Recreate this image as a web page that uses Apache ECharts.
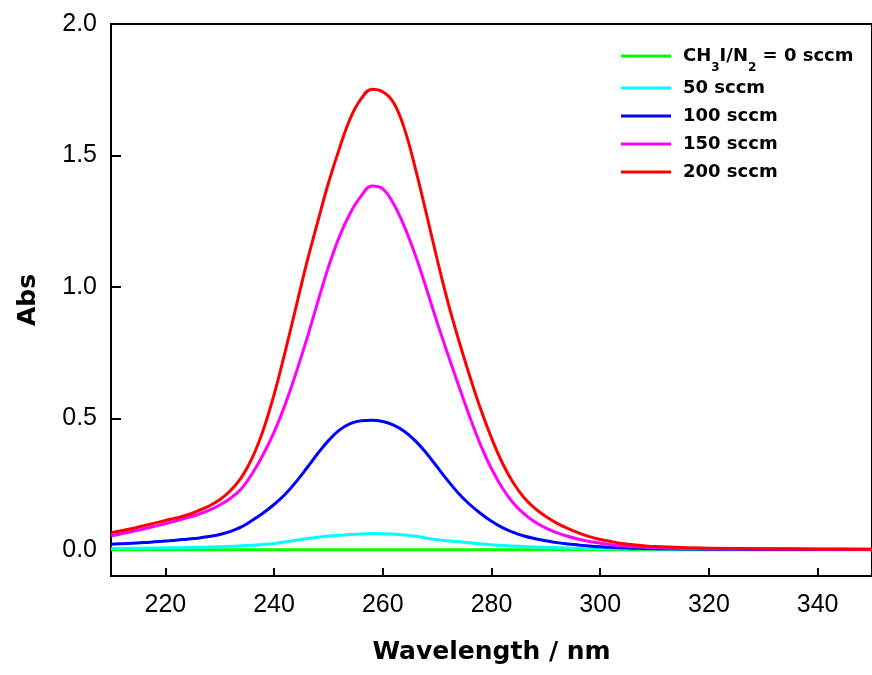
<!DOCTYPE html>
<html>
<head>
<meta charset="utf-8">
<script src="https://cdn.jsdelivr.net/npm/echarts@6/dist/echarts.min.js"></script>
<style>html,body{margin:0;padding:0;background:#fff}#c{width:872px;height:675px}</style>
</head>
<body>
<div id="c"></div>
<script>
// Wavelength grid (nm) for the three large curves
const wavelength = [210,212,214,216,218,220,222,224,226,228,230,232,234,236,238,240,242,244,246,248,250,252,254,256,258,260,262,264,266,268,270,272,274,276,278,280,282,284,286,288,290,292,294,296,298,300,302,304,306,308,310,315,320,330,340,350];
const abs200 = [0.065,0.072,0.081,0.091,0.101,0.111,0.121,0.132,0.148,0.166,0.19,0.225,0.275,0.35,0.455,0.59,0.75,0.92,1.09,1.245,1.395,1.525,1.64,1.715,1.752,1.742,1.70,1.60,1.45,1.28,1.105,0.94,0.795,0.66,0.535,0.425,0.33,0.255,0.198,0.157,0.126,0.101,0.081,0.064,0.050,0.039,0.031,0.024,0.019,0.015,0.012,0.008,0.006,0.004,0.003,0.002];
const abs150 = [0.053,0.061,0.070,0.079,0.089,0.099,0.110,0.121,0.134,0.150,0.170,0.196,0.232,0.29,0.362,0.447,0.55,0.67,0.80,0.94,1.075,1.19,1.28,1.345,1.384,1.373,1.315,1.228,1.12,0.995,0.865,0.742,0.622,0.505,0.398,0.308,0.235,0.178,0.136,0.105,0.082,0.065,0.051,0.040,0.031,0.025,0.019,0.015,0.012,0.009,0.008,0.005,0.004,0.003,0.002,0.002];
const abs100 = [0.021,0.023,0.025,0.027,0.030,0.033,0.036,0.040,0.044,0.050,0.058,0.070,0.087,0.112,0.14,0.172,0.21,0.257,0.31,0.365,0.415,0.455,0.48,0.491,0.493,0.488,0.474,0.45,0.414,0.368,0.315,0.262,0.213,0.172,0.138,0.108,0.084,0.066,0.052,0.042,0.034,0.027,0.022,0.018,0.014,0.011,0.009,0.007,0.006,0.005,0.004,0.003,0.002,0.001,0.001,0.001];
// 50 sccm curve
const wavelength50 = [210,215,220,225,230,235,240,245,250,255,258,260,265,270,275,280,285,290,295,300,310,320,335,350];
const abs50 = [0.005,0.006,0.007,0.009,0.011,0.016,0.024,0.039,0.052,0.059,0.062,0.061,0.054,0.038,0.028,0.019,0.013,0.009,0.006,0.004,0.003,0.002,0.001,0.001];
// 0 sccm curve
const wavelength0 = [210,250,300,350];
const abs0 = [0.0,0.0,0.0,0.0];

const seriesNames = ['CH3I/N2 = 0 sccm','50 sccm','100 sccm','150 sccm','200 sccm'];
const seriesColors = ['#00ff00','#00ffff','#0000ff','#ff00ff','#ff0000'];
const xTicks = [220,240,260,280,300,320,340];
const yTicks = [0,0.5,1.0,1.5,2.0];

function pairs(xs, ys){ return xs.map((x,i)=>[x, ys[i]]); }
const seriesData = [pairs(wavelength0,abs0), pairs(wavelength50,abs50), pairs(wavelength,abs100), pairs(wavelength,abs150), pairs(wavelength,abs200)];

const chart = echarts.init(document.getElementById('c'), null, {renderer:'canvas'});
const tickFont = 'Liberation Sans, Arial, sans-serif';
const boldFont = 'DejaVu Sans, sans-serif';
chart.setOption({
  animation:false,
  backgroundColor:'#fff',
  grid:{left:111, top:24, right:-5, bottom:99, show:true, borderColor:'#000', borderWidth:2, backgroundColor:'transparent'},
  legend:{
    left:621, top:38, padding:0, orient:'vertical', itemWidth:50, itemHeight:3, itemGap:0, icon:'rect',
    data:seriesNames,
    textStyle:{fontFamily:boldFont, fontWeight:'bold', fontSize:18, color:'#000', lineHeight:28, padding:[0,0,0,7],
      rich:{
        m:{fontFamily:boldFont, fontWeight:'bold', fontSize:18, color:'#000', lineHeight:36},
        s:{fontFamily:boldFont, fontWeight:'bold', fontSize:12, color:'#000', lineHeight:24, verticalAlign:'bottom'}
      }
    },
    formatter:function(n){
      if(n===seriesNames[0]) return '{m|CH}{s|3}{m|I/N}{s|2}{m| = 0 sccm}';
      return n;
    }
  },
  xAxis:{
    type:'value', min:210, max:350,
    name:'Wavelength / nm', nameLocation:'middle', nameGap:64,
    nameTextStyle:{fontFamily:boldFont, fontWeight:'bold', fontSize:25, color:'#000'},
    axisLine:{show:true, onZero:false, lineStyle:{color:'#000', width:2}},
    axisTick:{show:true, inside:true, length:8, lineStyle:{color:'#000', width:2}, customValues:xTicks},
    axisLabel:{fontFamily:tickFont, fontSize:25, color:'#000', margin:17, customValues:xTicks},
    splitLine:{show:false}
  },
  yAxis:{
    type:'value', min:-0.1, max:2.0,
    name:'Abs', nameLocation:'middle', nameGap:70, nameRotate:90,
    nameTextStyle:{fontFamily:boldFont, fontWeight:'bold', fontSize:25, color:'#000'},
    axisLine:{show:true, onZero:false, lineStyle:{color:'#000', width:2}},
    axisTick:{show:true, inside:true, length:10, lineStyle:{color:'#000', width:2}, customValues:yTicks},
    axisLabel:{fontFamily:tickFont, fontSize:25, color:'#000', margin:14, customValues:yTicks, formatter:v=>v.toFixed(1)},
    splitLine:{show:false}
  },
  series:seriesNames.map((n,i)=>({
    name:n, type:'line', data:seriesData[i], showSymbol:false, symbol:'none', smooth:0.4,
    lineStyle:{color:seriesColors[i], width:3}, itemStyle:{color:seriesColors[i]}
  }))
});
</script>
</body>
</html>
